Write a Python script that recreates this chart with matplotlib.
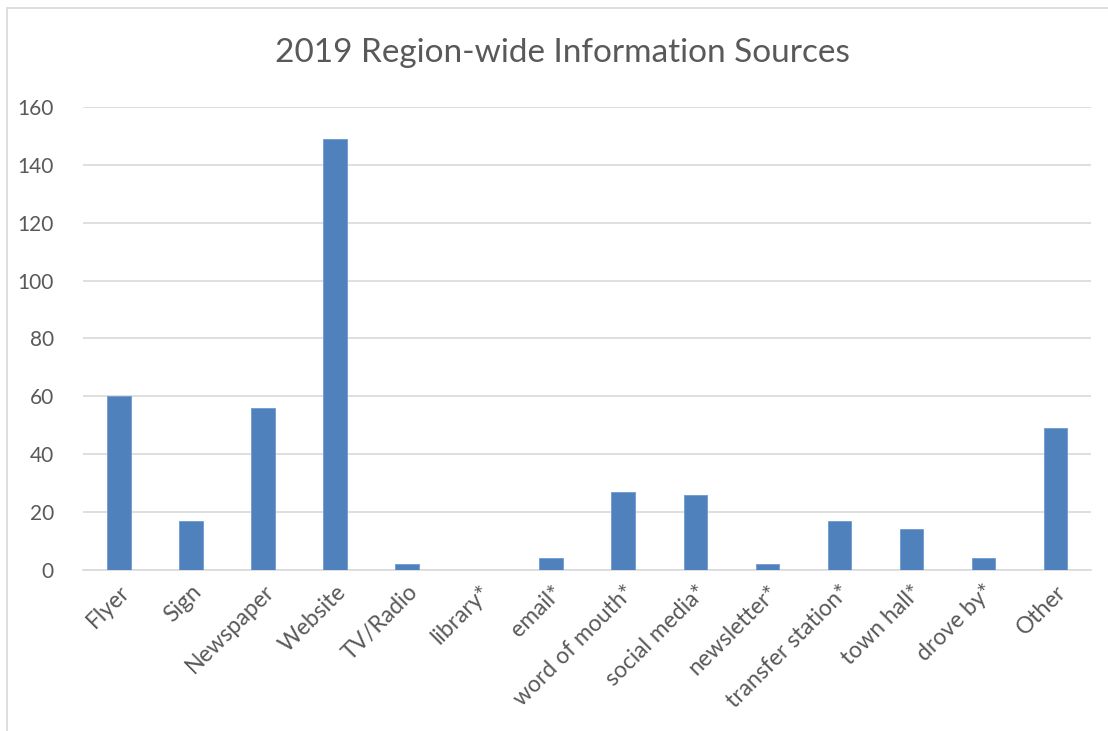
import matplotlib
matplotlib.use('Agg')
import matplotlib.pyplot as plt
from matplotlib.patches import Rectangle

# survey data
categories = ['Flyer', 'Sign', 'Newspaper', 'Website', 'TV/Radio', 'library*', 'email*',
              'word of mouth*', 'social media*', 'newsletter*', 'transfer station*',
              'town hall*', 'drove by*', 'Other']
counts = [60, 17, 56, 149, 2, 0, 4, 27, 26, 2, 17, 14, 4, 49]
yticks = [0, 20, 40, 60, 80, 100, 120, 140, 160]

plt.rcParams['font.family'] = ['Lato', 'DejaVu Sans']
text_col = '#595959'

fig = plt.figure(figsize=(11.08, 7.31), dpi=100)
ax = fig.add_axes([0.0749, 0.2203, 0.9098, 0.6333])

x = range(len(categories))
ax.bar(x, counts, width=0.32, color='#4f81bd', edgecolor='#6f9ad0', linewidth=0.6, zorder=3)

ax.set_xlim(-0.5, len(categories) - 0.5)
ax.set_ylim(0, 160)
ax.set_yticks(yticks)
ax.set_yticklabels([str(v) for v in yticks], fontsize=15, color=text_col)
ax.set_xticks(list(x))
ax.set_xticklabels(categories, rotation=45, ha='right', va='top', rotation_mode='anchor',
                   fontsize=16.5, color=text_col)
ax.tick_params(axis='both', length=0)
ax.tick_params(axis='y', pad=21)
ax.tick_params(axis='x', pad=8)

ax.grid(axis='y', color='#d9d9d9', linewidth=1.2, zorder=0)
for s in ['top', 'right', 'left']:
    ax.spines[s].set_visible(False)
ax.spines['bottom'].set_color('#d9d9d9')
ax.spines['bottom'].set_linewidth(1.2)

fig.text(0.508, 0.927, '2019 Region-wide Information Sources', ha='center', va='center',
         fontsize=24, color=text_col)

# outer chart frame
fig.patches.append(Rectangle((7 / 1108, -0.01), 1.2, 1 - 8 / 731 + 0.01, transform=fig.transFigure,
                             fill=False, edgecolor='#d9d9d9', linewidth=1.2))

fig.savefig('out.png', dpi=100)
